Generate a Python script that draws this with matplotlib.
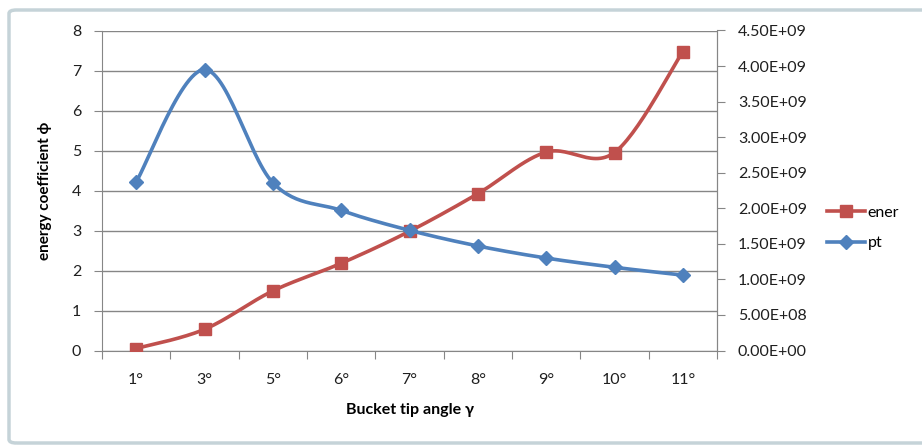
import numpy as np
import matplotlib
matplotlib.use("Agg")
import matplotlib.pyplot as plt
from matplotlib.patches import FancyBboxPatch
from matplotlib.lines import Line2D
from matplotlib.ticker import FuncFormatter, FixedLocator, NullFormatter

plt.rcParams['font.family'] = ['Lato', 'DejaVu Sans']

# Data
angles = ['1°', '3°', '5°', '6°', '7°', '8°', '9°', '10°', '11°']
ener = [0.05, 0.53, 1.49, 2.18, 2.98, 3.92, 4.96, 4.95, 7.47]
pt = [2.37e9, 3.95e9, 2.36e9, 1.97e9, 1.69e9, 1.47e9, 1.30e9, 1.17e9, 1.06e9]

red = '#C0504D'
blue = '#4F81BD'
grid_col = '#868686'
txt_col = '#1F1F1F'


def smooth(x, y, n=30):
    # Bezier spline through the points, like a spreadsheet "smoothed line"
    x = np.asarray(x, float)
    y = np.asarray(y, float)
    px = np.concatenate([[x[0]], x, [x[-1]]])
    py = np.concatenate([[y[0]], y, [y[-1]]])
    xs, ys = [], []
    t = np.linspace(0, 1, n)
    for i in range(1, len(px) - 2):
        p0 = np.array([px[i], py[i]])
        p3 = np.array([px[i + 1], py[i + 1]])
        p1 = p0 + (np.array([px[i + 1], py[i + 1]]) - np.array([px[i - 1], py[i - 1]])) / 6
        p2 = p3 - (np.array([px[i + 2], py[i + 2]]) - np.array([px[i], py[i]])) / 6
        b = ((1 - t) ** 3)[:, None] * p0 + (3 * (1 - t) ** 2 * t)[:, None] * p1 \
            + (3 * (1 - t) * t ** 2)[:, None] * p2 + (t ** 3)[:, None] * p3
        xs.append(b[:, 0])
        ys.append(b[:, 1])
    return np.concatenate(xs), np.concatenate(ys)


fig = plt.figure(figsize=(9.22, 4.45), dpi=100)

# chart area border
frame = FancyBboxPatch((9 / 922, 2 / 445), 940 / 922, 433 / 445,
                       boxstyle="round,pad=0,rounding_size=0.008",
                       transform=fig.transFigure, fill=False,
                       edgecolor='#C5D3D8', linewidth=2.5, zorder=0)
fig.patches.append(frame)

ax = fig.add_axes([102 / 922, (445 - 350.5) / 445, 615 / 922, 320 / 445])
ax2 = ax.twinx()

x = np.arange(len(angles))

sx, sy = smooth(x, ener)
ax.plot(sx, sy, color=red, lw=2.6, solid_capstyle='round', zorder=3)
ax.plot(x, ener, 's', color=red, ms=9, zorder=4)

sx, sy = smooth(x, pt)
ax2.plot(sx, sy, color=blue, lw=2.6, solid_capstyle='round', zorder=3)
ax2.plot(x, pt, 'D', color=blue, ms=7.5, zorder=4)

ax.set_xlim(-0.5, len(angles) - 0.5)
ax.set_ylim(0, 8)
ax2.set_ylim(0, 4.5e9)
ax.set_yticks(range(0, 9))
ax2.set_yticks(np.arange(0, 4.51e9, 5e8))
ax2.yaxis.set_major_formatter(FuncFormatter(lambda v, p: f"{v:.2E}"))

ax.grid(axis='y', color=grid_col, lw=1)
ax.set_axisbelow(True)

# category ticks between labels
ax.xaxis.set_major_locator(FixedLocator(np.arange(-0.5, len(angles), 1)))
ax.xaxis.set_major_formatter(NullFormatter())
ax.xaxis.set_minor_locator(FixedLocator(x))
ax.set_xticklabels(angles, minor=True)
ax.tick_params(axis='x', which='minor', length=0, pad=16, labelsize=11.5, colors=txt_col)
ax.tick_params(axis='x', which='major', length=6, color=grid_col)
ax.tick_params(axis='y', length=6, color=grid_col, labelsize=11.5, pad=9, labelcolor=txt_col)
ax2.tick_params(axis='y', length=6, color=grid_col, labelsize=11.5, pad=9, labelcolor=txt_col)

for a in (ax, ax2):
    a.spines['top'].set_visible(False)
    for s in ('left', 'right', 'bottom'):
        a.spines[s].set_color(grid_col)
ax2.spines['left'].set_visible(False)
ax2.spines['bottom'].set_visible(False)

ax.set_xlabel('Bucket tip angle γ', fontsize=11.5, fontweight='bold', labelpad=12, color='black')
ax.set_ylabel('energy coefficient ϕ', fontsize=11, fontweight='bold', labelpad=14, color='black')

handles = [Line2D([], [], color=red, lw=2.6, marker='s', ms=9),
           Line2D([], [], color=blue, lw=2.6, marker='D', ms=7.5)]
fig.legend(handles, ['ener', 'pt'], loc='center left',
           bbox_to_anchor=(822 / 922, (445 - 228) / 445), frameon=False,
           fontsize=11.5, handlelength=2.4, handletextpad=0.15, labelspacing=1.0,
           borderaxespad=0, borderpad=0.3)

fig.savefig('out.png', dpi=100)
